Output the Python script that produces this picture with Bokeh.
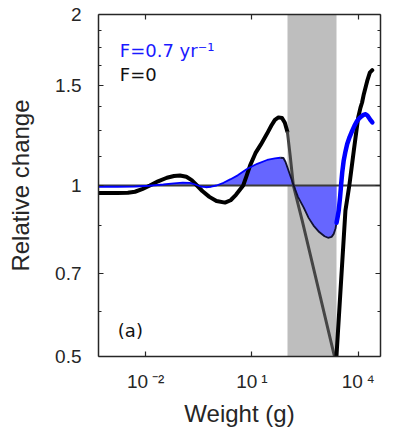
import numpy as np
from bokeh.plotting import figure
from bokeh.models import Range1d, LogAxis, FixedTicker, Label, CustomJSTickFormatter
from bokeh.embed import file_html
from bokeh.resources import INLINE

# ---------------- data ----------------
# F = 0 curve: log10(weight in g) and relative change
log_w_f0 = [-3.35, -2.8, -2.5, -2.3, -2.1, -1.88, -1.65, -1.4, -1.2, -1.03,
            -0.85, -0.7, -0.55, -0.4, -0.2, 0.0, 0.24, 0.4, 0.55, 0.754,
            0.85, 0.95, 1.1, 1.25, 1.425, 1.55, 1.65, 1.75, 1.85, 1.93,
            2.0, 2.08, 2.17, 2.42, 3.375, 3.64, 3.75, 3.876, 4.0, 4.065,
            4.11, 4.159, 4.255, 4.329, 4.397]
rel_f0 = [0.970, 0.970, 0.971, 0.975, 0.985, 1.0, 1.017, 1.032, 1.039, 1.041,
          1.036, 1.022, 1.0, 0.978, 0.955, 0.939, 0.933, 0.942, 0.963, 1.0,
          1.04, 1.085, 1.14, 1.18, 1.233, 1.275, 1.305, 1.318, 1.315, 1.29,
          1.245, 1.13, 1.0, 0.867, 0.487, 0.903, 1.0, 1.151, 1.317, 1.371,
          1.40, 1.448, 1.528, 1.58, 1.596]

# F = 0.7 /yr curve
log_w_f07 = [-3.35, -2.8, -2.3, -1.9, -1.5, -1.2, -0.95, -0.75, -0.6, -0.45,
             -0.3, -0.15, 0.0, 0.2, 0.4, 0.6, 0.86, 1.15, 1.43, 1.65,
             1.80, 1.89, 1.95, 2.05, 2.18, 2.3, 2.46, 2.6, 2.74, 2.9,
             3.05, 3.15, 3.25, 3.31, 3.36, 3.39, 3.42, 3.45, 3.49, 3.52,
             3.55, 3.59, 3.64, 3.69, 3.76, 3.83, 3.9, 3.97, 4.04, 4.11,
             4.16, 4.21, 4.26, 4.30, 4.35, 4.40]
rel_f07 = [0.995, 0.995, 0.996, 0.999, 1.004, 1.009, 1.012, 1.011, 1.004, 0.996,
           0.993, 0.995, 1.0, 1.011, 1.026, 1.042, 1.069, 1.092, 1.109, 1.116,
           1.119, 1.118, 1.10, 1.055, 1.0, 0.955, 0.915, 0.877, 0.85, 0.828,
           0.814, 0.809, 0.812, 0.822, 0.84, 0.86, 0.88, 0.903, 0.955, 1.006,
           1.055, 1.105, 1.147, 1.183, 1.218, 1.248, 1.276, 1.299, 1.315, 1.326,
           1.333, 1.335, 1.328, 1.317, 1.303, 1.291]

fishing_band_g = [1e2, 10 ** 3.39]

x_tick_exponents = [-2, 1, 4]
x_tick_labels = ["10\u2009\u207b\u00b2", "10\u2009\u00b9", "10\u2009\u2074"]
y_ticks = [0.5, 0.7, 1, 1.5, 2]
y_tick_labels = ["0.5", "0.7", "1", "1.5", "2"]
y_minor_ticks = [0.6, 0.85, 1.125, 1.25, 1.375, 1.625, 1.75, 1.875]
legend_labels = ["F=0.7 yr\u207b\u00b9", "F=0"]
panel_label = "(a)"

# ---------------- figure ----------------
x0 = np.array(log_w_f0)
w0 = 10 ** x0
y0 = np.array(rel_f0)
x1 = np.array(log_w_f07)
w1 = 10 ** x1
y1 = np.array(rel_f07)

AX = "#262626"
TICK_FONT = "Liberation Sans"

p = figure(width=403, height=432, x_axis_type="log", y_axis_type="log",
           x_range=Range1d(10 ** -3.33, 10 ** 4.63), y_range=Range1d(0.5, 2),
           output_backend="svg", toolbar_location=None,
           min_border_left=98, min_border_right=23, min_border_top=13,
           min_border_bottom=76)
p.grid.visible = False
p.outline_line_color = None
p.background_fill_color = "white"
p.border_fill_color = "white"

# grey band (fishing size range)
p.vstrip(x0=[fishing_band_g[0]], x1=[fishing_band_g[1]], fill_color="#bebebe",
         line_color=None)

# blue fill between F=0.7 curve and 1, up to end of band
fm = w1 <= fishing_band_g[1] * 1.0001
p.varea(x=w1[fm], y1=np.ones(fm.sum()), y2=y1[fm], fill_color="#6666ff")

# reference line at 1
p.hspan(y=[1.0], line_color="#3a3a3a", line_width=2)

# F=0 curve split by band
inb = (w0 >= fishing_band_g[0] * 0.9999) & (w0 <= fishing_band_g[1])
idx = np.where(inb)[0]
i0, i1 = idx[0], idx[-1]
p.line(w0[:i0 + 1], y0[:i0 + 1], line_color="black", line_width=4,
       line_join="round", line_cap="round")
p.line(w0[i0:i1 + 1], y0[i0:i1 + 1], line_color="#454545", line_width=3,
       line_join="round")
p.line(w0[i1:], y0[i1:], line_color="black", line_width=4,
       line_join="round", line_cap="round")

# F=0.7 curve: thin blue outline to its peak, thin dark through band, thick blue after
ipk = int(np.argmax(np.where(x1 < 3, y1, 0)))
iend = int(np.where(fm)[0][-1])
p.line(w1[:ipk + 1], y1[:ipk + 1], line_color="#0000ff", line_width=1.8)
p.line(w1[ipk:iend + 1], y1[ipk:iend + 1], line_color="#111133", line_width=1.8)
p.line(w1[iend:], y1[iend:], line_color="#0000ff", line_width=4.5,
       line_join="round", line_cap="round")

# ---------------- axes ----------------
xt = FixedTicker(ticks=[10.0 ** e for e in x_tick_exponents])
yt = FixedTicker(ticks=y_ticks, minor_ticks=y_minor_ticks)
blank = CustomJSTickFormatter(code="return ' ';")
lookup = """
for (let i = 0; i < vals.length; i++) {
  if (Math.abs(vals[i] - tick) < 1e-6 * Math.abs(vals[i])) { return labs[i]; }
}
return '';
"""
xfmt = CustomJSTickFormatter(
    args=dict(vals=[10.0 ** e for e in x_tick_exponents], labs=x_tick_labels),
    code=lookup)
yfmt = CustomJSTickFormatter(args=dict(vals=y_ticks, labs=y_tick_labels),
                             code=lookup)


def style(ax):
    ax.axis_line_color = AX
    ax.axis_line_width = 1.5
    ax.major_tick_line_color = AX
    ax.minor_tick_line_color = AX
    ax.major_tick_line_width = 1.2
    ax.minor_tick_line_width = 1.2
    ax.major_tick_in = 5
    ax.major_tick_out = 0
    ax.minor_tick_in = 3
    ax.minor_tick_out = 0


xa = p.xaxis[0]
xa.ticker = xt
xa.formatter = xfmt
style(xa)
xa.major_label_text_font = TICK_FONT
xa.major_label_text_font_size = "19px"
xa.major_label_text_color = AX
xa.major_label_standoff = 14
xa.axis_label = "Weight (g)"
xa.axis_label_text_font = TICK_FONT
xa.axis_label_text_font_size = "24px"
xa.axis_label_text_font_style = "normal"
xa.axis_label_text_color = AX
xa.axis_label_standoff = 5

ya = p.yaxis[0]
ya.ticker = yt
ya.formatter = yfmt
style(ya)
ya.major_label_text_font = TICK_FONT
ya.major_label_text_font_size = "19px"
ya.major_label_text_color = AX
ya.major_label_standoff = 17
ya.axis_label = "Relative change"
ya.axis_label_text_font = TICK_FONT
ya.axis_label_text_font_size = "24px"
ya.axis_label_text_font_style = "normal"
ya.axis_label_text_color = AX
ya.axis_label_standoff = 18

top = LogAxis(ticker=xt, formatter=blank, major_label_text_font_size="6px")
style(top)
p.add_layout(top, "above")
right = LogAxis(ticker=yt, formatter=blank, major_label_text_font_size="6px")
style(right)
p.add_layout(right, "right")

# legend texts and panel label
p.add_layout(Label(x=10 ** -2.728, y=1.725, text=legend_labels[0],
                   text_baseline="alphabetic", text_font="DejaVu Sans",
                   text_font_size="18px", text_color="#1a1aff"))
p.add_layout(Label(x=10 ** -2.728, y=1.566, text=legend_labels[1],
                   text_baseline="alphabetic", text_font="DejaVu Sans",
                   text_font_size="18px", text_color="#111111"))
p.add_layout(Label(x=10 ** -2.784, y=0.555, text=panel_label,
                   text_baseline="alphabetic", text_font="DejaVu Sans",
                   text_font_size="18px", text_color="#111111"))

open("out.html", "w").write(file_html(p, INLINE))
